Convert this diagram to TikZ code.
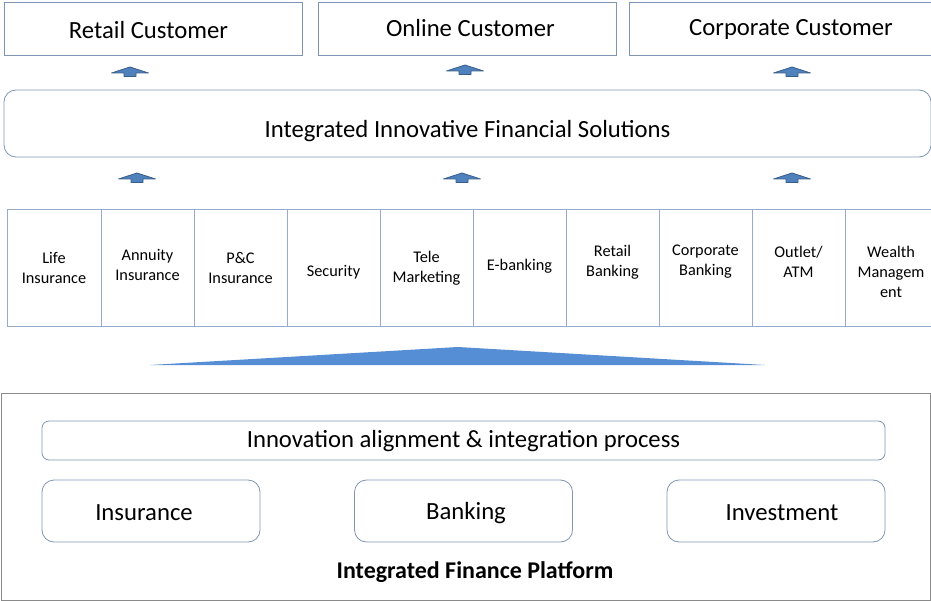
\documentclass[tikz,border=0pt]{standalone}
\usepackage{fontspec}
\setmainfont{Carlito}
\definecolor{boxline}{HTML}{7F95B5}
\definecolor{cellline}{HTML}{95ABCB}
\definecolor{frameline}{HTML}{8A8A8A}
\definecolor{arrfill}{HTML}{4F81BD}
\definecolor{arrline}{HTML}{385D8A}
\definecolor{trifill}{HTML}{558ED5}
\tikzset{
  big/.style={font=\fontsize{24.7}{28}\selectfont},
  custbox/.style={draw=boxline, line width=0.8pt, minimum width=298pt, minimum height=53pt, inner sep=0pt},
  solbox/.style={draw=boxline, line width=0.8pt, rounded corners=12pt, minimum width=927pt, minimum height=67pt, inner sep=0pt},
  cellbox/.style={draw=cellline, line width=0.8pt, minimum width=93pt, minimum height=117pt, inner sep=0pt},
  celltext/.style={font=\fontsize{16.3}{20}\selectfont, align=center, inner sep=0pt},
  innerbox/.style={draw=boxline, line width=0.8pt, rounded corners=7pt, inner sep=0pt},
  pillarbox/.style={draw=boxline, line width=0.8pt, rounded corners=12pt, minimum width=218pt, minimum height=62pt, inner sep=0pt},
  pics/uparr/.style={code={
    \path[fill=arrfill, draw=arrline, line width=0.8pt, line join=round]
      (0,-5) -- (18.5,1) -- (6,1) -- (6,4.5) -- (-6,4.5) -- (-6,1) -- (-18.5,1) -- cycle;
  }}
}
\begin{document}
\begin{tikzpicture}[x=1pt, y=-1pt]
\useasboundingbox (0,0) rectangle (931,601);
% customers
\node[custbox, label={[big, xshift=-4.5pt, yshift=-1.5pt]center:Retail Customer}] (retail) at (153,28.5) {};
\node[custbox, label={[big, xshift=3.5pt, yshift=0.5pt]center:Online Customer}] (online) at (467,28.5) {};
\node[custbox, minimum width=310pt, label={[big, xshift=7pt, yshift=-0.5pt]center:Corporate Customer}] (corp) at (784,28.5) {};
% arrows row 1
\pic at (130,72) {uparr};
\pic at (465,70) {uparr};
\pic at (792,72) {uparr};
% solutions
\node[solbox, label={[big, yshift=-8pt]center:Integrated Innovative Financial Solutions}] (sol) at (467.5,123.5) {};
% arrows row 2
\pic at (137,178) {uparr};
\pic at (462,178) {uparr};
\pic at (792,178) {uparr};
% cells
\node[cellbox, minimum width=94pt, label={[celltext, yshift=-0.5pt]center:Life\\Insurance}] (c1) at (54,267.5) {};
\node[cellbox, label={[celltext, yshift=3pt]center:Annuity\\Insurance}] (c2) at (147.5,267.5) {};
\node[cellbox, label={[celltext, yshift=-0.5pt]center:P\&C\\Insurance}] (c3) at (240.5,267.5) {};
\node[cellbox, label={[celltext, yshift=-4.5pt]center:Security}] (c4) at (333.5,267.5) {};
\node[cellbox, label={[celltext, yshift=-0.5pt]center:Tele\\Marketing}] (c5) at (426.5,267.5) {};
\node[cellbox, label={[celltext, yshift=1.5pt]center:E-banking}] (c6) at (519.5,267.5) {};
\node[cellbox, label={[celltext, yshift=5.5pt]center:Retail\\Banking}] (c7) at (612.5,267.5) {};
\node[cellbox, label={[celltext, yshift=5.5pt]center:Corporate\\Banking}] (c8) at (705.5,267.5) {};
\node[cellbox, label={[celltext, yshift=5.5pt]center:Outlet/\\ATM}] (c9) at (798.5,267.5) {};
\node[cellbox, minimum width=95pt, label={[celltext, xshift=-1.5pt, yshift=-4.5pt]center:Wealth\\Managem\\ent}] (c10) at (892.5,267.5) {};
% big triangle
\fill[trifill] (150,365) -- (458,347) -- (765,365) -- cycle;
% platform frame
\node[draw=frameline, line width=0.8pt, minimum width=929pt, minimum height=207pt, inner sep=0pt] (frame) at (465.5,496.5) {};
\node[innerbox, minimum width=843pt, minimum height=39pt, label={[big, yshift=-0.5pt]center:Innovation alignment \& integration process}] (align) at (463.5,440.5) {};
\node[pillarbox, label={[big, xshift=-7pt, yshift=-2pt]center:Insurance}] (ins) at (151,511) {};
\node[pillarbox, label={[big, xshift=2.5pt, yshift=-2pt]center:Banking}] (bank) at (463.5,511) {};
\node[pillarbox, label={[big, xshift=6pt, yshift=-2pt]center:Investment}] (inv) at (776,511) {};
\node[font=\fontsize{24}{28}\selectfont\bfseries] (plat) at (475,572) {Integrated Finance Platform};
\end{tikzpicture}
\end{document}
